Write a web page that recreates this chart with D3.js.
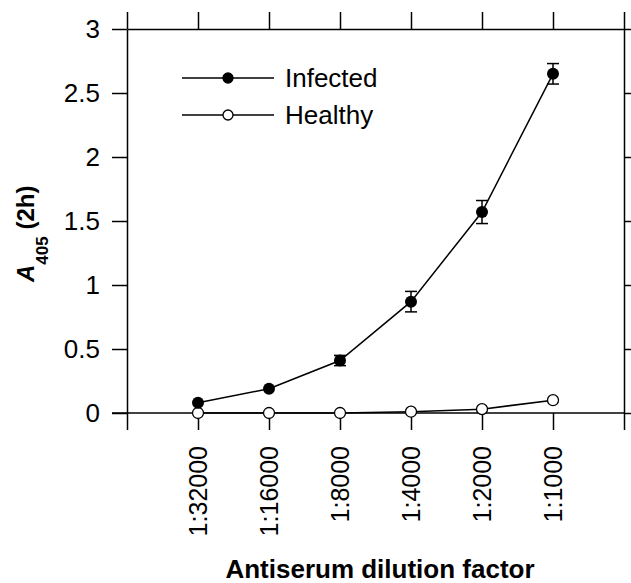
<!DOCTYPE html>
<html>
<head>
    <script src="https://cdn.jsdelivr.net/npm/d3@7"></script>
    <style>
        body { margin: 0; background: #fff; }
        text { font-family: "Liberation Sans", Arial, Helvetica, sans-serif; fill: #000; }
    </style>
</head>

<body>
<div id="chart"></div>

<script>

    var categories = ['1:32000', '1:16000', '1:8000', '1:4000', '1:2000', '1:1000'];
    var infected = [0.08, 0.19, 0.41, 0.87, 1.57, 2.65];
    var infectedErr = [0, 0, 0.04, 0.08, 0.09, 0.08];
    var healthy = [0, 0, 0, 0.01, 0.03, 0.1];
    var yTicks = [0, 0.5, 1, 1.5, 2, 2.5, 3];

    var width = 631;
    var height = 583;

    var svg = d3.select('#chart').append('svg')
        .attr('width', width)
        .attr('height', height);

    // category i sits at position i + 1, the box edges at 0 and 7
    var xScale = d3.scaleLinear()
        .domain([0, categories.length + 1])
        .range([127, 624]);

    var yScale = d3.scaleLinear()
        .domain([0, 3])
        .range([413, 29]);

    var xPositions = d3.range(0, categories.length + 2);

    function styleAxis(g) {
        g.selectAll('path, line').attr('stroke', '#000').attr('stroke-width', 1.5);
        g.selectAll('text').attr('fill', '#000').style('font-family', '"Liberation Sans", Arial, sans-serif');
    }

    // left axis
    svg.append('g')
        .attr('transform', 'translate(' + xScale(0) + ',0)')
        .call(d3.axisLeft(yScale).tickValues(yTicks).tickSize(15).tickSizeOuter(0)
            .tickPadding(12).tickFormat(function(d) { return String(d); }))
        .call(styleAxis)
        .selectAll('text').style('font-size', '26px');

    // right axis
    svg.append('g')
        .attr('transform', 'translate(' + xScale(categories.length + 1) + ',0)')
        .call(d3.axisRight(yScale).tickValues(yTicks).tickSize(8).tickSizeOuter(0).tickFormat(''))
        .call(styleAxis);

    // top axis
    svg.append('g')
        .attr('transform', 'translate(0,' + yScale(3) + ')')
        .call(d3.axisTop(xScale).tickValues(xPositions).tickSize(17).tickSizeOuter(0).tickFormat(''))
        .call(styleAxis);

    // bottom axis with rotated category labels
    var bottom = svg.append('g')
        .attr('transform', 'translate(0,' + yScale(0) + ')')
        .call(d3.axisBottom(xScale).tickValues(xPositions).tickSize(17).tickSizeOuter(0)
            .tickFormat(function(d) { return categories[d - 1] || ''; }))
        .call(styleAxis);

    bottom.select('.domain').attr('d', 'M' + (xScale(0) - 15) + ',0H' + xScale(categories.length + 1));

    bottom.selectAll('text')
        .style('font-size', '25px')
        .attr('transform', 'rotate(-90)')
        .attr('text-anchor', 'end')
        .attr('x', -33)
        .attr('y', 0)
        .attr('dy', '0.35em');

    // lines
    var line = d3.line()
        .x(function(d, i) { return xScale(i + 1); })
        .y(function(d) { return yScale(d); });

    svg.append('path')
        .datum(healthy)
        .attr('d', line)
        .attr('fill', 'none')
        .attr('stroke', '#000')
        .attr('stroke-width', 1.5);

    svg.append('path')
        .datum(infected)
        .attr('d', line)
        .attr('fill', 'none')
        .attr('stroke', '#000')
        .attr('stroke-width', 1.5);

    // error bars
    var errData = infected.map(function(d, i) {
        return { x: i + 1, y: d, e: infectedErr[i] };
    }).filter(function(d) { return d.e > 0; });

    var err = svg.append('g').selectAll('g')
        .data(errData)
        .enter()
        .append('g');

    err.append('line')
        .attr('x1', function(d) { return xScale(d.x); })
        .attr('x2', function(d) { return xScale(d.x); })
        .attr('y1', function(d) { return yScale(d.y + d.e); })
        .attr('y2', function(d) { return yScale(d.y - d.e); })
        .attr('stroke', '#000').attr('stroke-width', 1.5);

    [1, -1].forEach(function(sign) {
        err.append('line')
            .attr('x1', function(d) { return xScale(d.x) - 6; })
            .attr('x2', function(d) { return xScale(d.x) + 6; })
            .attr('y1', function(d) { return yScale(d.y + sign * d.e); })
            .attr('y2', function(d) { return yScale(d.y + sign * d.e); })
            .attr('stroke', '#000').attr('stroke-width', 1.5);
    });

    // markers
    svg.append('g').selectAll('circle')
        .data(healthy)
        .enter()
        .append('circle')
        .attr('cx', function(d, i) { return xScale(i + 1); })
        .attr('cy', function(d) { return yScale(d); })
        .attr('r', 5.5)
        .attr('fill', '#fff')
        .attr('stroke', '#000')
        .attr('stroke-width', 1.3);

    svg.append('g').selectAll('circle')
        .data(infected)
        .enter()
        .append('circle')
        .attr('cx', function(d, i) { return xScale(i + 1); })
        .attr('cy', function(d) { return yScale(d); })
        .attr('r', 6)
        .attr('fill', '#000');

    // legend
    var legend = svg.append('g');
    var legendItems = [
        { name: 'Infected', y: 78, fill: '#000' },
        { name: 'Healthy', y: 115, fill: '#fff' }
    ];

    legendItems.forEach(function(item) {
        legend.append('line')
            .attr('x1', 182).attr('x2', 274)
            .attr('y1', item.y).attr('y2', item.y)
            .attr('stroke', '#000').attr('stroke-width', 1.5);
        legend.append('circle')
            .attr('cx', 228).attr('cy', item.y).attr('r', 5)
            .attr('fill', item.fill).attr('stroke', '#000').attr('stroke-width', 1.3);
        legend.append('text')
            .attr('x', 285).attr('y', item.y + 9)
            .style('font-size', '26px')
            .text(item.name);
    });

    // axis titles
    svg.append('text')
        .attr('x', 380)
        .attr('y', 578)
        .attr('text-anchor', 'middle')
        .style('font-size', '26px')
        .style('font-weight', 'bold')
        .text('Antiserum dilution factor');

    var yTitle = svg.append('text')
        .attr('transform', 'translate(34,282) rotate(-90)')
        .style('font-size', '24px')
        .style('font-weight', 'bold');

    yTitle.append('tspan').style('font-style', 'italic').text('A');
    yTitle.append('tspan').attr('dy', 14).style('font-size', '17px').text('405');
    yTitle.append('tspan').attr('dy', -14).text(' (2h)');

</script>
</body>
</html>
